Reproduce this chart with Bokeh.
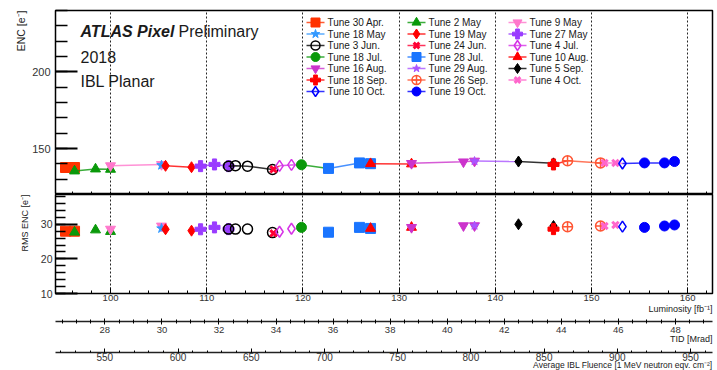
from bokeh.plotting import figure
from bokeh.models import (Range1d, SingleIntervalTicker, FixedTicker, Label, Title)
from bokeh.core.properties import value
from bokeh.layouts import column
from bokeh.embed import file_html
from bokeh.resources import INLINE

# ---------------- data ----------------
tune_labels = ["Tune 30 Apr.", "Tune 2 May", "Tune 9 May", "Tune 18 May", "Tune 19 May",
               "Tune 27 May", "Tune 3 Jun.", "Tune 24 Jun.", "Tune 4 Jul.", "Tune 18 Jul.",
               "Tune 28 Jul.", "Tune 10 Aug.", "Tune 16 Aug.", "Tune 29 Aug.", "Tune 5 Sep.",
               "Tune 18 Sep.", "Tune 26 Sep.", "Tune 4 Oct.", "Tune 10 Oct.", "Tune 19 Oct."]

tune_lumi = [[95.32, 96.26], [96.26, 98.44, 100.0], [100.0, 105.3], [105.3],
             [105.72, 108.42], [109.36, 110.81, 112.27], [112.27, 112.99, 114.24, 116.84],
             [116.94], [117.57, 118.81], [119.85], [122.66, 125.88, 127.03],
             [127.03, 131.29], [131.29, 136.69, 137.84], [137.84], [142.41, 146.05],
             [146.05], [147.51, 150.94], [151.35, 152.49], [153.22],
             [155.51, 157.59, 158.63]]

tune_enc = [[137.6, 137.6], [135.3, 136.6, 136.4], [138.8, 139.6], [139.1],
            [138.7, 137.8], [138.5, 139.6, 138.5], [138.5, 138.8, 138.5, 136.3],
            [136.4], [138.7, 139.3], [139.4], [137.0, 140.6, 140.1],
            [140.1, 139.9], [140.3, 141.3, 141.8], [141.8], [141.5, 140.3],
            [139.6], [142.0, 140.6], [140.6, 140.6], [140.2],
            [140.6, 140.6, 141.5]]

tune_rms = [[28.0, 28.0], [27.7, 28.35, 27.9], [28.6, 29.5], [28.8],
            [28.55, 28.15], [28.55, 29.1, 28.6], [28.6, 28.6, 28.6, 27.6],
            [27.4], [27.85, 28.7], [29.1], [27.7, 29.1, 28.8],
            [28.8, 29.1], [29.1, 29.6, 29.6], [29.6], [30.0, 29.5],
            [28.6], [29.3, 29.5], [29.5, 29.8], [29.3],
            [29.1, 29.5, 29.8]]

lumi_range = (94.28, 162.58)
tid_range = (26.27, 49.30)
fluence_range = (516.3, 965.0)
enc_range = (120, 240)
rms_range = (10, 38.6)

# ---------------- styles ----------------
tune_colors = ["#ff3300", "#0a990a", "#ff77cc", "#3399ff", "#ff0000",
               "#9a3cff", "#000000", "#ff0033", "#d633e6", "#0a990a",
               "#1a75ff", "#ff0000", "#cc33cc", "#aa55ff", "#000000",
               "#ff0000", "#ff5533", "#ff66cc", "#0000ff", "#0000ff"]
tune_markers = ["square", "triangle", "inverted_triangle", "star", "diamond",
                "plus", "circle", "x", "diamond", "circle",
                "square", "triangle", "inverted_triangle", "star", "diamond",
                "plus", "circle_cross", "x", "diamond", "circle"]
tune_filled = [True, True, True, True, True, True, False, True, False, True,
               True, True, True, True, True, True, False, True, False, True]
tune_sizes = [10, 10, 10, 10, 11, 11, 10, 9, 11, 10, 10, 10, 10, 9, 11, 11, 10, 9, 11, 10]

FONT = "Liberation Sans"
TXT = "#1a1a1a"
TICK_TXT = "#333333"
FRAME_W = 657
LEFT = 55
RIGHT = 3
TOP_H = 184
BOT_H = 99


def base_fig(x_rng, y_rng, frame_h, top_border, bottom_border):
    p = figure(frame_width=FRAME_W, frame_height=frame_h,
               x_range=Range1d(*x_rng), y_range=Range1d(*y_rng),
               output_backend="svg", toolbar_location=None,
               min_border_left=LEFT, min_border_right=RIGHT,
               min_border_top=top_border, min_border_bottom=bottom_border)
    p.background_fill_color = "white"
    p.border_fill_color = "white"
    p.ygrid.visible = False
    return p


def panel_grid(p):
    p.outline_line_color = "black"
    p.outline_line_width = 1.5
    p.xgrid.ticker = SingleIntervalTicker(interval=10)
    p.xgrid.grid_line_color = "black"
    p.xgrid.grid_line_dash = "2 2"
    p.xgrid.grid_line_width = 1
    p.xgrid.grid_line_alpha = 0.85


def style_common(ax):
    ax.major_label_text_font = FONT
    ax.major_label_text_color = TICK_TXT
    ax.axis_line_color = "black"
    ax.major_tick_line_color = "black"
    ax.minor_tick_line_color = "black"


def add_title(p, text, side, size, standoff):
    t = Title(text=text, align="right", text_font=FONT, text_font_size=size,
              text_font_style="normal", text_color=TXT)
    try:
        t.standoff = standoff
    except Exception:
        t.standoff = 0
    p.add_layout(t, side)


# ---------------- top panel ----------------
p1 = base_fig(lumi_range, enc_range, TOP_H, 10, 0)
panel_grid(p1)
ya = p1.yaxis[0]
style_common(ya)
ya.ticker = SingleIntervalTicker(interval=50, num_minor_ticks=5)
ya.major_tick_in = 22
ya.major_tick_out = 0
ya.minor_tick_in = 12
ya.minor_tick_out = 0
ya.major_tick_line_width = 2
ya.minor_tick_line_width = 1.5
ya.major_label_text_font_size = "11px"
ya.major_label_standoff = 5
add_title(p1, "ENC [e⁻]", "left", "10.5px", 6)

xa = p1.xaxis[0]
style_common(xa)
xa.ticker = FixedTicker(ticks=[], minor_ticks=list(range(96, 163, 2)))
xa.minor_tick_in = 3
xa.minor_tick_out = 0
xa.major_tick_out = 0
xa.major_label_standoff = 0

n = len(tune_labels)
for i in range(n):
    lx = list(tune_lumi[i])
    ly = list(tune_enc[i])
    if i + 1 < n:
        lx.append(tune_lumi[i + 1][0])
        ly.append(tune_enc[i + 1][0])
    c = tune_colors[i]
    p1.line(lx, ly, line_color=c, line_width=1.5, line_alpha=0.8)
    lw = 3 if tune_markers[i] == "x" else (1.5 if not tune_filled[i] else 1)
    p1.scatter(tune_lumi[i], tune_enc[i], marker=tune_markers[i], size=tune_sizes[i],
               fill_color=c if tune_filled[i] else None, line_color=c, line_width=lw)

# manual legend (3 columns, entries row-major), drawn in pixel-like extra ranges
p1.extra_x_ranges = {"lx": Range1d(0, FRAME_W)}
p1.extra_y_ranges = {"ly": Range1d(0, TOP_H)}
col_x = [260, 361, 462]      # glyph centres, px from frame left
row0, pitch = 12, 11.5       # px from frame top
txt_x, txt_y, txt_s = [], [], []
for i in range(n):
    r, cidx = divmod(i, 3)
    gx = col_x[cidx]
    gy = TOP_H - (row0 + pitch * r)
    c = tune_colors[i]
    p1.line([gx - 9, gx + 9], [gy, gy], line_color=c, line_width=1.5, line_alpha=0.8,
            x_range_name="lx", y_range_name="ly")
    lw = 3 if tune_markers[i] == "x" else (1.5 if not tune_filled[i] else 1)
    p1.scatter([gx], [gy], marker=tune_markers[i], size=tune_sizes[i] - 1,
               fill_color=c if tune_filled[i] else None, line_color=c, line_width=lw,
               x_range_name="lx", y_range_name="ly")
    txt_x.append(gx + 12)
    txt_y.append(gy)
    txt_s.append(tune_labels[i])
p1.text(txt_x, txt_y, text=txt_s, text_font=value(FONT), text_font_size=value("10px"),
        text_color=TXT, text_baseline="middle", text_align="left",
        x_range_name="lx", y_range_name="ly")

# texts
p1.add_layout(Label(x=25, y=TOP_H - 21, x_units="screen", y_units="screen", text="ATLAS Pixel",
                    text_font=FONT, text_font_size="16px", text_font_style="bold italic",
                    text_color=TXT, text_baseline="alphabetic"))
p1.add_layout(Label(x=123, y=TOP_H - 21, x_units="screen", y_units="screen", text="Preliminary",
                    text_font=FONT, text_font_size="16px", text_color=TXT,
                    text_baseline="alphabetic"))
p1.add_layout(Label(x=25, y=TOP_H - 46, x_units="screen", y_units="screen", text="2018",
                    text_font=FONT, text_font_size="16px", text_color=TXT,
                    text_baseline="alphabetic"))
p1.add_layout(Label(x=25, y=TOP_H - 71, x_units="screen", y_units="screen", text="IBL Planar",
                    text_font=FONT, text_font_size="16px", text_color=TXT,
                    text_baseline="alphabetic"))

# ---------------- bottom panel ----------------
p2 = base_fig(lumi_range, rms_range, BOT_H, 0, 23)
panel_grid(p2)
yb = p2.yaxis[0]
style_common(yb)
yb.ticker = SingleIntervalTicker(interval=10, num_minor_ticks=5)
yb.major_tick_in = 22
yb.major_tick_out = 0
yb.minor_tick_in = 10
yb.minor_tick_out = 0
yb.major_tick_line_width = 2
yb.minor_tick_line_width = 1.5
yb.major_label_text_font_size = "10.5px"
yb.major_label_standoff = 3
add_title(p2, "RMS ENC [e⁻]", "left", "9px", 15)

xb = p2.xaxis[0]
style_common(xb)
xb.ticker = SingleIntervalTicker(interval=10, num_minor_ticks=5)
xb.major_tick_in = 6
xb.major_tick_out = 0
xb.minor_tick_in = 3
xb.minor_tick_out = 0
xb.major_label_text_font_size = "9.5px"
xb.major_label_standoff = 1
add_title(p2, "Luminosity [fb⁻¹]", "below", "9px", -3)

for i in range(n):
    c = tune_colors[i]
    lw = 3 if tune_markers[i] == "x" else (1.5 if not tune_filled[i] else 1)
    p2.scatter(tune_lumi[i], tune_rms[i], marker=tune_markers[i], size=tune_sizes[i],
               fill_color=c if tune_filled[i] else None, line_color=c, line_width=lw)


# ---------------- extra axes (TID, fluence) ----------------
def axis_strip(x_rng, bottom_border):
    p = base_fig(x_rng, (0, 1), 1, 4, bottom_border)
    p.outline_line_color = None
    p.xgrid.visible = False
    p.yaxis.visible = False
    ax = p.xaxis[0]
    style_common(ax)
    ax.axis_line_width = 1.5
    ax.axis_line_color = "#222222"
    return p, ax


p3, tid_ax = axis_strip(tid_range, 26)
tid_ax.ticker = SingleIntervalTicker(interval=2, num_minor_ticks=4)
tid_ax.major_tick_in = 3
tid_ax.major_tick_out = 3
tid_ax.minor_tick_in = 2
tid_ax.minor_tick_out = 2
tid_ax.major_label_text_font_size = "9.5px"
tid_ax.major_label_standoff = 2
add_title(p3, "TID [Mrad]", "below", "9px", -7)

p4, flu_ax = axis_strip(fluence_range, 18)
flu_ax.ticker = SingleIntervalTicker(interval=50, num_minor_ticks=5)
flu_ax.major_tick_in = 4
flu_ax.major_tick_out = 0
flu_ax.minor_tick_in = 2
flu_ax.minor_tick_out = 0
flu_ax.major_label_text_font_size = "10px"
flu_ax.major_label_standoff = 0
add_title(p4, "Average IBL Fluence [1 MeV neutron eqv. cm⁻²]", "below", "8.5px", -11)

layout = column(p1, p2, p3, p4, spacing=0)
open("out.html", "w").write(file_html(layout, INLINE))
